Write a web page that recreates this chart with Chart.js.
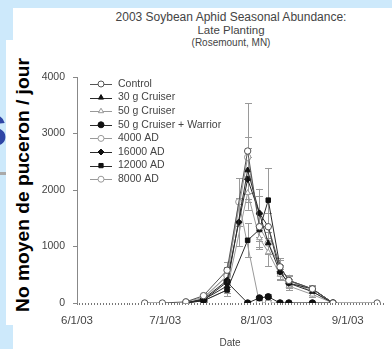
<!DOCTYPE html>
<html><head><meta charset="utf-8">
<script src="https://cdn.jsdelivr.net/npm/chart.js@4.4.0/dist/chart.umd.min.js"></script>
<style>
html,body{margin:0;padding:0;}
body{width:392px;height:349px;background:#cde9fb;position:relative;overflow:hidden;font-family:"Liberation Sans",Arial,sans-serif;}
#s{position:absolute;left:-25px;top:97px;font:bold 59px/1 "Liberation Sans",Arial,sans-serif;color:#2f46a6;}
#gl{position:absolute;left:0;top:172px;width:8px;height:3px;background:#a9a9a9;}
#panel{position:absolute;left:13px;top:8px;width:379px;height:341px;background:#fff;}
#ybox{position:absolute;left:6px;top:40px;width:10px;height:285px;background:#fff;}
#ylab{position:absolute;left:-127px;top:172.5px;width:300px;height:24px;line-height:24px;text-align:center;transform:rotate(-90deg);font-weight:bold;font-size:19.2px;color:#000;white-space:nowrap;}
.t{position:absolute;left:81px;width:300px;text-align:center;color:#444;white-space:nowrap;}
#c{position:absolute;left:0;top:0;}
</style>
</head><body>
<div id="s">s</div>
<div id="gl"></div>
<div id="panel"></div>
<div id="ybox"></div>
<div id="ylab">No moyen de puceron / jour</div>
<div class="t" style="top:10px;font-size:12px;line-height:14px;">2003 Soybean Aphid Seasonal Abundance:</div>
<div class="t" style="top:23px;font-size:11.5px;line-height:14px;">Late Planting</div>
<div class="t" style="top:37px;font-size:10px;line-height:12px;">(Rosemount, MN)</div>
<canvas id="c" width="392" height="349"></canvas>
<script>
// ---- data ----
const sampleDates = ["6/24/03","6/30/03","7/8/03","7/14/03","7/22/03","7/26/03","7/29/03","8/2/03","8/5/03","8/9/03","8/12/03","8/20/03","8/27/03","9/11/03"];
const seriesNames = ["Control","30 g Cruiser","50 g Cruiser","50 g Cruiser + Warrior","4000 AD","16000 AD","12000 AD","8000 AD"];
const control     = [0,0,20,130,580,null,2690,1350,1350,640,400,250,0,0];
const cruiser30   = [null,null,0,60,300,null,2350,1590,1060,550,350,200,0,null];
const cruiser50   = [null,null,10,40,230,null,1950,1150,900,500,300,150,0,null];
const cruiserWar  = [null,null,0,50,370,null,0,90,110,0,0,0,0,null];
const ad4000      = [null,null,20,100,480,null,2580,1350,1060,640,400,200,0,null];
const ad16000     = [null,null,0,70,400,1430,2190,1590,1350,550,350,250,0,null];
const ad12000     = [null,null,0,40,230,null,1110,1300,1820,640,400,250,0,null];
const ad8000      = [null,null,0,80,480,1790,null,0,0,0,0,0,0,null];
const controlErr    = [0,0,10,50,150,null,850,250,250,150,100,60,0,0];
const cruiser30Err  = [null,null,0,30,120,null,400,430,200,120,80,50,0,null];
const cruiser50Err  = [null,null,5,20,100,null,300,200,250,100,70,40,0,null];
const cruiserWarErr = [null,null,0,20,120,null,0,40,50,0,0,0,0,null];
const ad4000Err     = [null,null,10,40,150,null,350,250,200,120,80,50,0,null];
const ad16000Err    = [null,null,0,30,120,420,400,300,250,120,80,50,0,null];
const ad12000Err    = [null,null,0,20,100,null,300,300,570,120,80,50,0,null];
const ad8000Err     = [null,null,0,30,150,420,null,0,0,0,0,0,0,null];
const monthTickLabels = ["6/1/03","7/1/03","8/1/03","9/1/03"];
const yTickValues = [0,1000,2000,3000,4000];

const seriesValues = [control,cruiser30,cruiser50,cruiserWar,ad4000,ad16000,ad12000,ad8000];
const seriesErrors = [controlErr,cruiser30Err,cruiser50Err,cruiserWarErr,ad4000Err,ad16000Err,ad12000Err,ad8000Err];

// ---- styles ----
const FONT = '"Liberation Sans", Arial, sans-serif';
const DARK = '#2a2a2a', GRAY = '#999';
const styles = [
  {line:'#555', marker:'circle', fill:false},
  {line:DARK, marker:'triangle', fill:true},
  {line:GRAY, marker:'triangle', fill:false},
  {line:DARK, marker:'circle', fill:true},
  {line:GRAY, marker:'circle', fill:false},
  {line:DARK, marker:'rectRot', fill:true},
  {line:DARK, marker:'rect', fill:true},
  {line:GRAY, marker:'circle', fill:false}
];

function dayNum(s){const p=s.split('/').map(Number);return Math.round((Date.UTC(2000+p[2],p[0]-1,p[1])-Date.UTC(2003,5,1))/86400000);}
const monthDays = monthTickLabels.map(dayNum);

const datasets = seriesNames.map((name,k)=>{
  const st = styles[k];
  const pts = sampleDates.map((d,i)=> seriesValues[k][i]==null?null:{x:dayNum(d),y:seriesValues[k][i],err:seriesErrors[k][i]||0}).filter(Boolean);
  return {
    label:name, data:pts, borderColor:st.line, borderWidth:1, tension:0, fill:false,
    pointStyle:st.marker, pointRadius:3.2, pointBorderWidth:1,
    pointBorderColor: st.fill ? '#111' : st.line,
    pointBackgroundColor: st.fill ? '#111' : '#fff',
    order: st.line===GRAY ? 2 : 1
  };
});

const errorBars = {
  id:'errorBars',
  beforeDatasetsDraw(chart){
    const ctx=chart.ctx, ys=chart.scales.y;
    ctx.save(); ctx.strokeStyle='#9a9a9a'; ctx.lineWidth=1;
    chart.data.datasets.forEach((ds,k)=>{
      const meta=chart.getDatasetMeta(k);
      meta.data.forEach((el,i)=>{
        const p=ds.data[i]; if(!p.err) return;
        const t=ys.getPixelForValue(p.y+p.err), b=ys.getPixelForValue(Math.max(0,p.y-p.err));
        const x=Math.round(el.x)+0.5;
        ctx.beginPath();
        ctx.moveTo(x,t);ctx.lineTo(x,b);
        ctx.moveTo(x-3.5,Math.round(t)+0.5);ctx.lineTo(x+3.5,Math.round(t)+0.5);
        ctx.moveTo(x-3.5,Math.round(b)+0.5);ctx.lineTo(x+3.5,Math.round(b)+0.5);
        ctx.stroke();
      });
    });
    ctx.restore();
  }
};

const lineLegend = {
  id:'lineLegend',
  afterDraw(chart){
    const ctx=chart.ctx, a=chart.chartArea;
    ctx.save();
    chart.data.datasets.forEach((ds,k)=>{
      const y=a.top+7+k*13.6, x0=a.left+13, x1=a.left+35, xm=(x0+x1)/2;
      ctx.strokeStyle=ds.borderColor; ctx.lineWidth=1;
      ctx.beginPath(); ctx.moveTo(x0,Math.round(y)+0.5); ctx.lineTo(x1,Math.round(y)+0.5); ctx.stroke();
      ctx.fillStyle=ds.pointBackgroundColor; ctx.strokeStyle=ds.pointBorderColor;
      Chart.helpers.drawPoint(ctx,{pointStyle:ds.pointStyle,radius:3,rotation:0,borderWidth:1},xm,y);
      ctx.fillStyle='#444'; ctx.font='10.5px '+FONT; ctx.textBaseline='middle'; ctx.textAlign='left';
      ctx.fillText(ds.label,a.left+41,y);
    });
    ctx.restore();
  }
};

new Chart(document.getElementById('c'),{
  type:'line',
  data:{datasets},
  plugins:[errorBars,lineLegend],
  options:{
    responsive:false, animation:false, devicePixelRatio:1,
    layout:{padding:{top:77,right:9,bottom:0,left:0}},
    plugins:{legend:{display:false},tooltip:{enabled:false}},
    scales:{
      x:{type:'linear',min:0,max:104,
        afterBuildTicks(ax){const t=[];for(let d=0;d<=104;d++)t.push({value:d});ax.ticks=t;},
        afterFit(ax){ax.height=46;},
        ticks:{autoSkip:false,maxRotation:0,minRotation:0,padding:9,color:'#444',font:{size:11.5,family:FONT},
          callback(v){const i=monthDays.indexOf(v);return i>=0?monthTickLabels[i]:'';}},
        grid:{drawOnChartArea:false,tickLength:2,tickColor:'#777',tickWidth:1},
        border:{display:false},
        title:{display:true,text:'Date',color:'#444',font:{size:10,family:FONT},padding:{top:0,bottom:0}}
      },
      y:{min:0,max:4000,
        afterBuildTicks(ax){ax.ticks=yTickValues.map(v=>({value:v}));},
        afterFit(ax){ax.width=77;},
        ticks:{padding:8,color:'#444',font:{size:10.5,family:FONT},callback(v){return String(v);}},
        grid:{drawOnChartArea:false,tickLength:4,tickColor:'#888'},
        border:{display:true,color:'#888',width:1}
      }
    }
  }
});
</script>
</body></html>
